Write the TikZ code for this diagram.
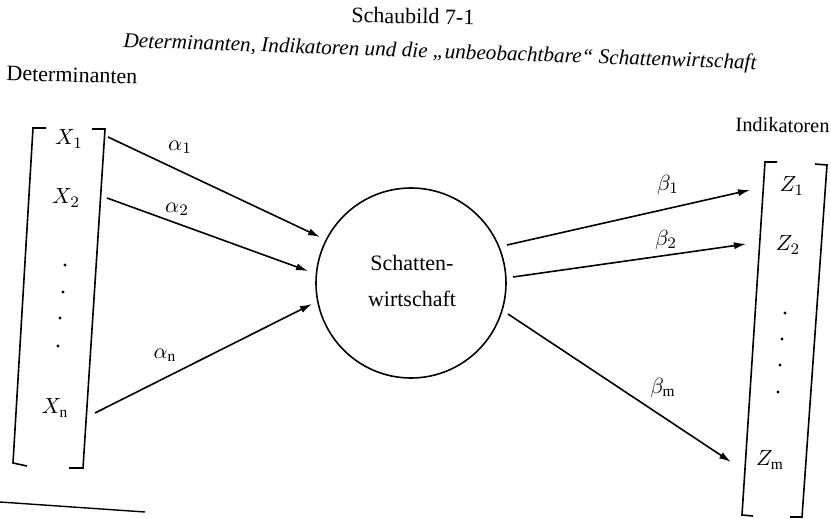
\documentclass[tikz,border=0pt]{standalone}
\usepackage{fontspec}
\setmainfont{Liberation Serif}
\usetikzlibrary{arrows.meta}
\tikzset{
  ln/.style={line width=0.8pt, line join=miter},
  arr/.style={line width=0.8pt, -{Latex[length=6pt,width=3.6pt]}},
  lbl/.style={inner sep=0pt, font=\fontsize{11}{13}\selectfont},
  vlbl/.style={inner sep=0pt, font=\fontsize{11}{13}\selectfont},
  dotm/.style={fill=black, circle, inner sep=0pt, minimum size=1.6pt}
}
\begin{document}
\begin{tikzpicture}[x=0.5pt, y=-0.5pt]
\useasboundingbox (0,0) rectangle (831,519);
\fill[white] (0,0) rectangle (831,519);
% titles
\node[lbl, rotate=-1] (t1) at (413,16) {Schaubild 7-1};
\node[lbl, rotate=-2, font=\fontsize{10.6}{13}\selectfont] (t2) at (440,53) {\itshape Determinanten, Indikatoren und die „unbeobachtbare“ Schattenwirtschaft};
\node[lbl, rotate=-1.5] (t3) at (72,75) {Determinanten};
\node[lbl, rotate=-1, anchor=east, font=\fontsize{10.2}{12}\selectfont] (t4) at (830,126) {Indikatoren};
% left bracket
\draw[ln] (46,128) -- (33,128) -- (13,463) -- (27,466);
\draw[ln] (92,129) -- (105,129) -- (83,468) -- (69,468);
% right bracket
\draw[ln] (777,162) -- (765,162) -- (742,515) -- (753,516);
\draw[ln] (815,164) -- (827,165) -- (802,517) -- (790,517);
% footnote rule
\draw[line width=0.7pt] (0,502) -- (145,512);
% X labels
\node[vlbl] (x1) at (69,139) {$X_1$};
\node[vlbl] (x2) at (66,198) {$X_2$};
\node[vlbl] (xn) at (55,408) {$X_{\mathrm{n}}$};
\node[dotm] (ld1) at (65,265) {};
\node[dotm] (ld2) at (63,292) {};
\node[dotm] (ld3) at (60,318) {};
\node[dotm] (ld4) at (58,346) {};
% Z labels
\node[vlbl] (z1) at (792,186) {$Z_1$};
\node[vlbl] (z2) at (788,245) {$Z_2$};
\node[vlbl] (zm) at (770,460) {$Z_{\mathrm{m}}$};
\node[dotm] (rd1) at (785,313) {};
\node[dotm] (rd2) at (782,339) {};
\node[dotm] (rd3) at (780,365) {};
\node[dotm] (rd4) at (778,392) {};
% circle
\node[draw, circle, line width=0.8pt, minimum size=95pt, inner sep=0pt] (sw) at (411,283) {};
\node[lbl, align=center] (swt) at (412,281) {Schatten-\\[5pt]wirtschaft};
% arrow endpoints
\coordinate (a1s) at (108,137); \coordinate (a1e) at (320,237);
\coordinate (a2s) at (107,198); \coordinate (a2e) at (308,271);
\coordinate (ans) at (95,413);  \coordinate (ane) at (312,304);
\coordinate (b1s) at (507,245); \coordinate (b1e) at (750,190);
\coordinate (b2s) at (513,277); \coordinate (b2e) at (746,244);
\coordinate (bms) at (508,314); \coordinate (bme) at (731,462);
\draw[arr] (a1s) -- (a1e);
\draw[arr] (a2s) -- (a2e);
\draw[arr] (ans) -- (ane);
\draw[arr] (b1s) -- (b1e);
\draw[arr] (b2s) -- (b2e);
\draw[arr] (bms) -- (bme);
% arrow labels
\node[vlbl] (la1) at (180,147) {$\alpha_1$};
\node[vlbl] (la2) at (177,209) {$\alpha_2$};
\node[vlbl] (lan) at (165,355) {$\alpha_{\mathrm{n}}$};
\node[vlbl] (lb1) at (668,185) {$\beta_1$};
\node[vlbl] (lb2) at (666,240) {$\beta_2$};
\node[vlbl] (lbm) at (663,388) {$\beta_{\mathrm{m}}$};
\end{tikzpicture}
\end{document}
